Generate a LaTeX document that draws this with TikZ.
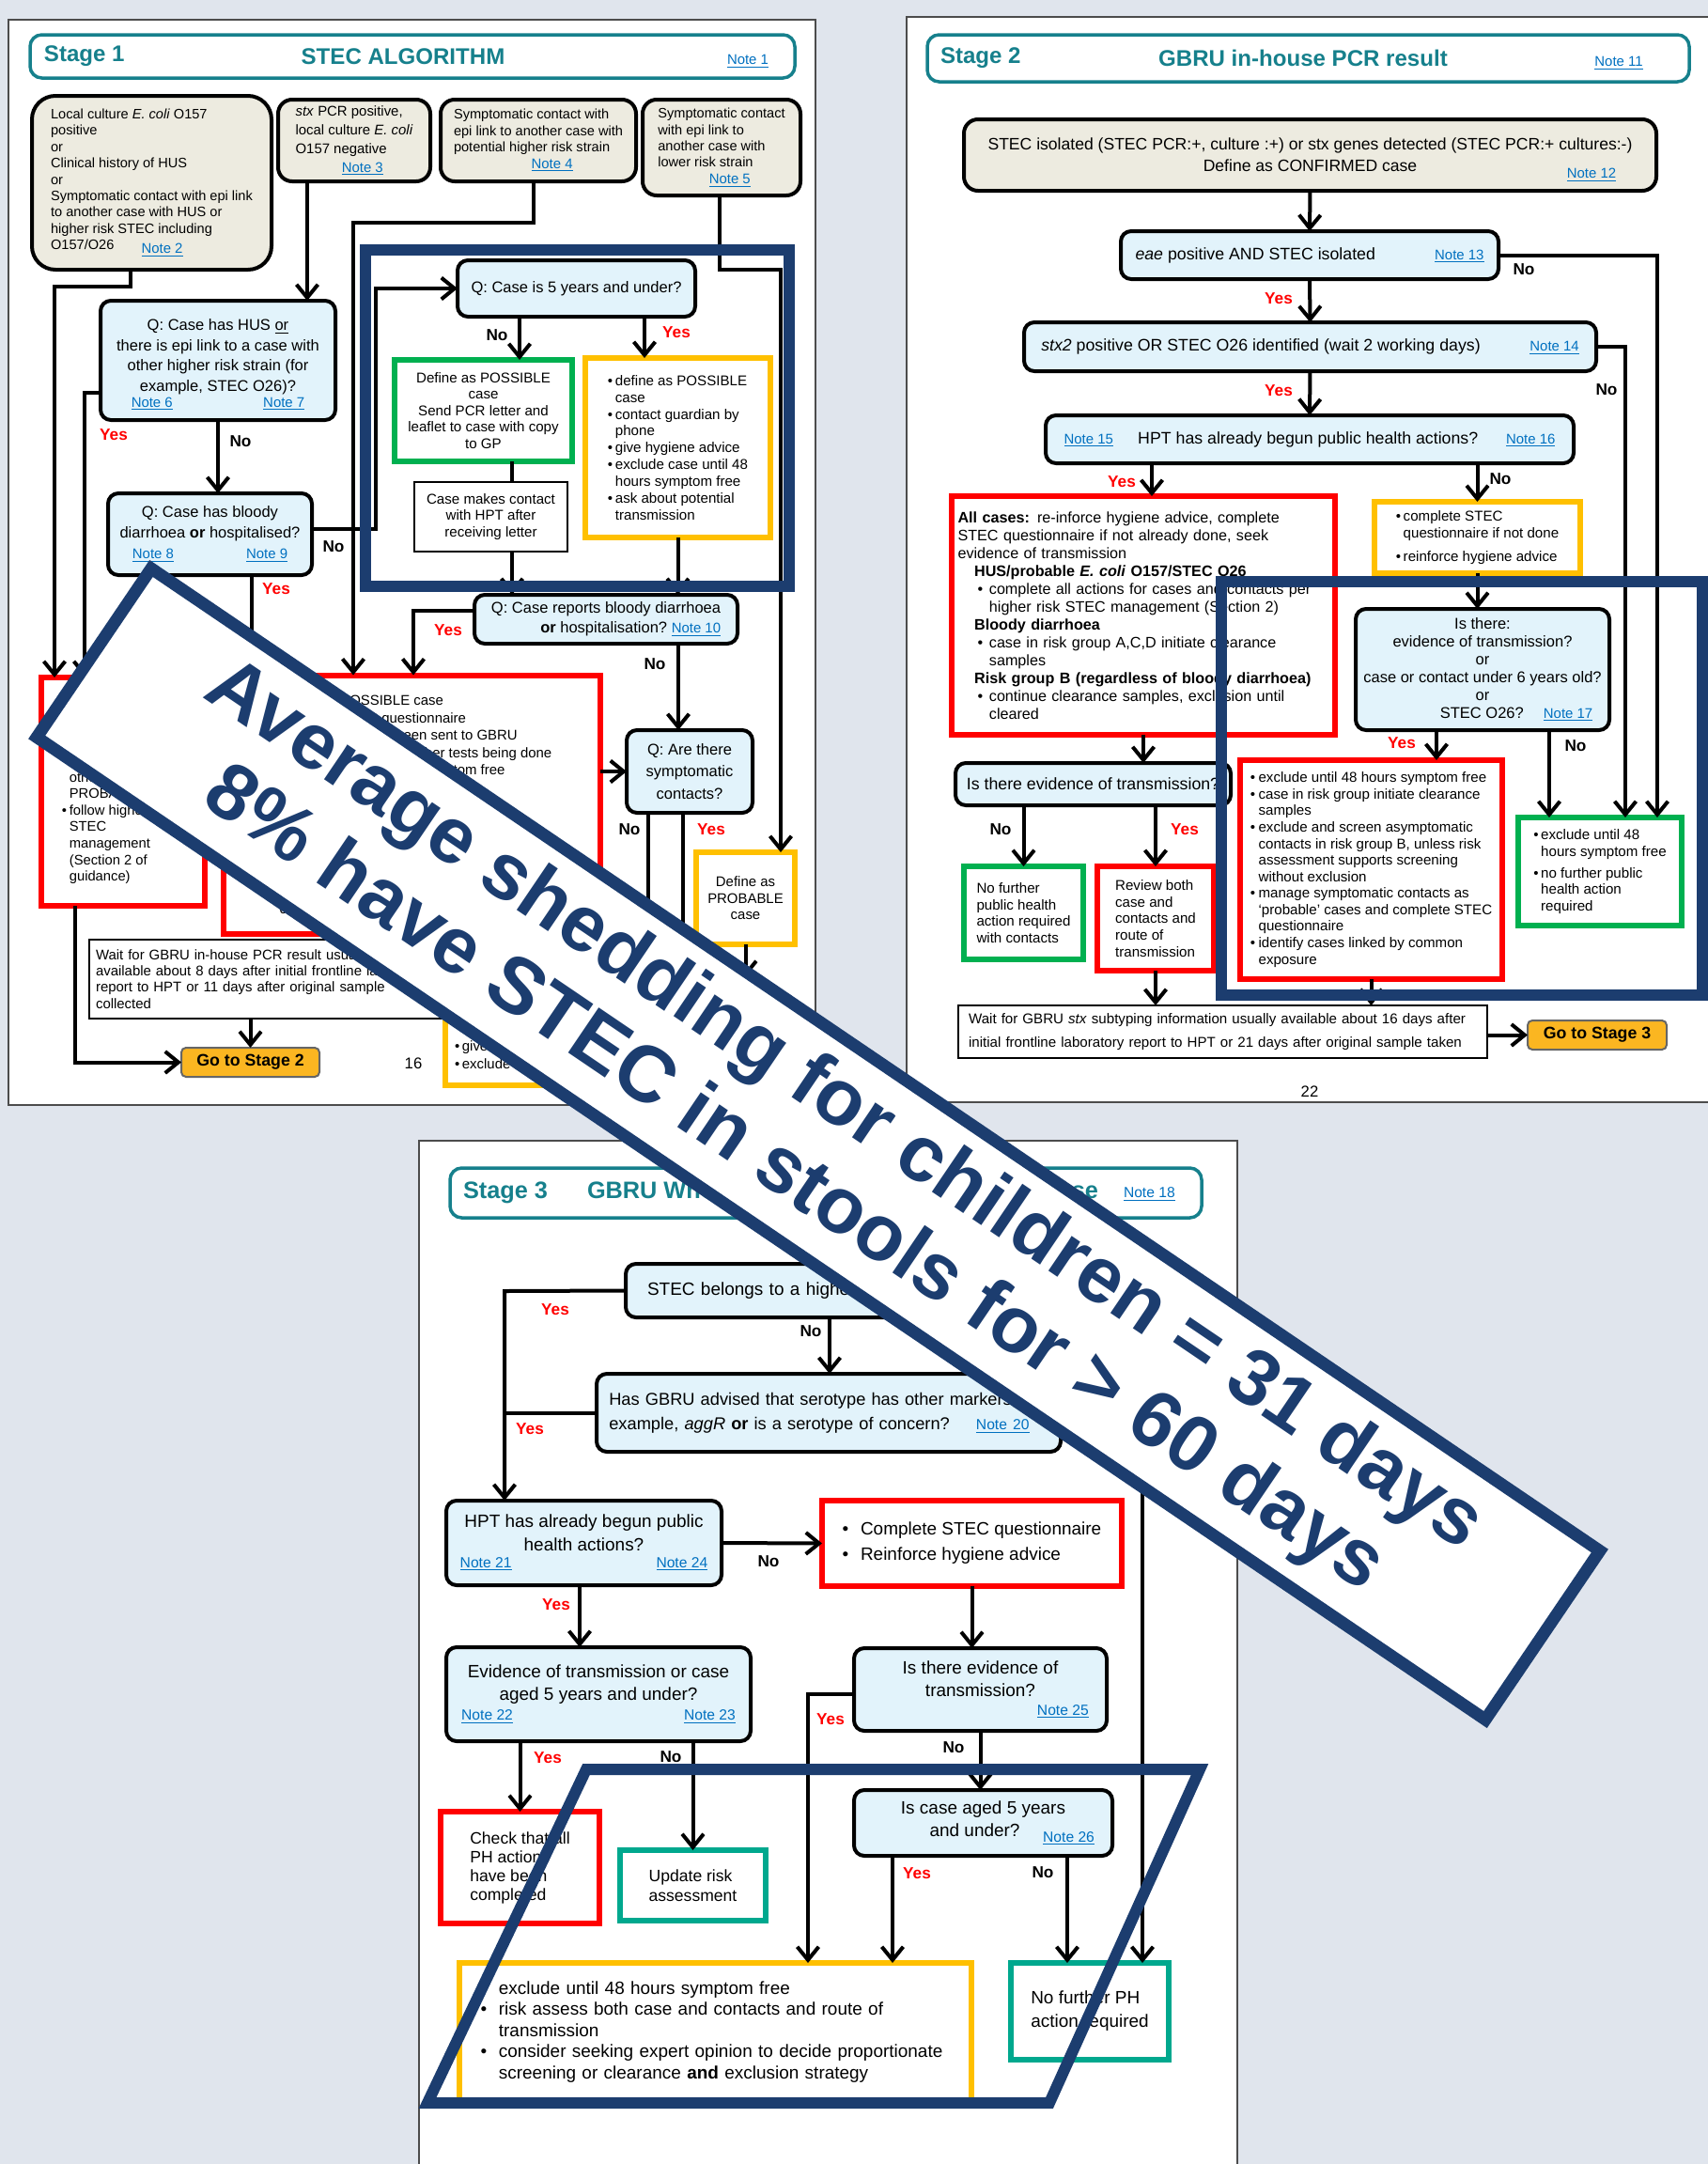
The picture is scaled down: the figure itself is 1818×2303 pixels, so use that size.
\documentclass[tikz,border=0pt]{standalone}
\usepackage{fontspec}
\setmainfont{Liberation Sans}
\usetikzlibrary{arrows.meta}
\definecolor{pagebg}{RGB}{224,229,237}
\definecolor{navy}{RGB}{28,61,111}
\definecolor{tealhd}{RGB}{22,128,140}
\definecolor{linkblue}{RGB}{0,112,192}
\definecolor{startfill}{RGB}{237,235,224}
\definecolor{qfill}{RGB}{226,243,251}
\definecolor{boxred}{RGB}{255,0,0}
\definecolor{boxgreen}{RGB}{0,176,80}
\definecolor{boxyellow}{RGB}{255,192,0}
\definecolor{boxteal}{RGB}{0,168,142}
\definecolor{gold}{RGB}{251,182,33}
\newcommand{\nt}[1]{{\fontsize{8.5}{10}\selectfont\textcolor{linkblue}{\underline{#1}}}}
\newcommand{\ntb}[1]{{\fontsize{8.9}{10}\selectfont\textcolor{linkblue}{\underline{#1}}}}
\newcommand{\bl}[1][4.5pt]{\makebox[#1][l]{\textbullet}}
\newcommand{\ind}[1][4.5pt]{\hspace*{#1}}
\newcommand{\notes}[3]{\makebox[#1]{#2\hfill#3}}
\begin{document}
\begin{tikzpicture}[x=0.02cm, y=-0.02cm,
  every node/.style={inner sep=0pt, outer sep=0pt},
  sz/.style 2 args={minimum width=#1*0.02cm, minimum height=#2*0.02cm},
  fnt/.style 2 args={font=\fontsize{#1}{#2}\selectfont},
  page/.style={fill=white, draw=black!70, line width=0.04cm},
  hdr/.style={draw=tealhd, line width=0.07cm, rounded corners=0.25cm, fill=white},
  ttl/.style={text=tealhd, font=\fontsize{13.7}{16}\selectfont\bfseries},
  sbox/.style={draw, line width=0.08cm, rounded corners=0.3cm, fill=startfill},
  qbox/.style={draw, line width=0.08cm, rounded corners=0.22cm, fill=qfill},
  wbox/.style={draw, line width=0.05cm, fill=white},
  rdbox/.style={draw=boxred, line width=0.12cm, fill=white},
  gnbox/.style={draw=boxgreen, line width=0.12cm, fill=white},
  ylbox/.style={draw=boxyellow, line width=0.12cm, fill=white},
  tlbox/.style={draw=boxteal, line width=0.12cm, fill=white},
  gobox/.style={draw=black!60, line width=0.04cm, rounded corners=0.1cm, fill=gold, font=\fontsize{10.1}{12}\selectfont\bfseries},
  conn/.style={line width=0.08cm},
  arr/.style={line width=0.08cm, -{Straight Barb[length=8pt,width=13pt]}},
  yes/.style={text=boxred, font=\fontsize{9.8}{11}\selectfont\bfseries},
  no/.style={font=\fontsize{9.8}{11}\selectfont\bfseries},
  bluefr/.style={draw=navy, line width=0.24cm},
  banner/.style={draw=navy, line width=0.26cm, fill=white, text=navy, align=center, font=\fontsize{48}{54}\selectfont\bfseries}]
\useasboundingbox (0,0) rectangle (1818,2303);
\fill[pagebg] (0,0) rectangle (1818,2303);
% stage 1
\draw[page] (9,21) rectangle (868,1176);
\node[hdr, sz={814}{46}] (hd1) at (439,60) {};
\node[ttl, anchor=west] (hd1a) at (47,60) {Stage 1};
\node[ttl] (hd1b) at (429,60) {STEC ALGORITHM};
\node (hd1c) at (796,65) {\nt{Note 1}};
\node[sbox, rounded corners=0.5cm, sz={255}{185}, fnt={8.3}{9.9}, align=left] (n2) at (161.5,194.5) {Local culture \textit{E. coli} O157\\positive\\or\\Clinical history of HUS\\or\\Symptomatic contact with epi link\\to another case with HUS or\\higher risk STEC including\\O157/O26\hspace{2em}\raisebox{-0.5ex}{\nt{Note 2}}};
\node[sbox, sz={162}{87}, fnt={8.5}{11.4}, align=left] (n3) at (377,149.5) {\textit{stx} PCR positive,\\local culture \textit{E. coli}\\O157 negative\\\hspace*{28pt}\nt{Note 3}};
\node[sbox, sz={208}{87}, fnt={8.3}{9.9}, align=left] (n4) at (573,149.5) {Symptomatic contact with\\epi link to another case with\\potential higher risk strain\\\hspace*{47pt}\nt{Note 4}};
\node[sbox, sz={168}{102}, fnt={8.3}{9.9}, align=left] (n5) at (768,157) {Symptomatic contact\\with epi link to\\another case with\\lower risk strain\\\hspace*{31pt}\nt{Note 5}};
\node[qbox, sz={250}{127}, fnt={9.4}{12.4}, align=center] (q1) at (232,383.5) {\rule{0pt}{12pt}Q: Case has HUS \underline{or}\\there is epi link to a case with\\other higher risk strain (for\\example, STEC O26)?\\[-3pt]\notes{105pt}{\nt{Note 6}}{\nt{Note 7}}};
\node[qbox, sz={217}{87}, fnt={9.4}{12.4}, align=center] (q2) at (223.5,568.5) {Q: Case has bloody\\diarrhoea \textbf{or} hospitalised?\\\notes{94pt}{\nt{Note 8}}{\nt{Note 9}}};
\node[qbox, sz={253}{60}, fnt={9.4}{12.4}] (q0) at (613.5,307) {Q: Case is 5 years and under?};
\node[gnbox, sz={189}{108}, fnt={8.6}{10}, align=center] (g1) at (514.5,437) {Define as POSSIBLE\\case\\Send PCR letter and\\leaflet to case with copy\\to GP};
\node[wbox, sz={163}{74}, fnt={8.6}{10}, align=center] (c1) at (522.5,550) {Case makes contact\\with HPT after\\receiving letter};
\node[ylbox, sz={197}{191}, fnt={8.6}{10.2}, align=left] (y1) at (721.5,476.5) {\bl define as POSSIBLE\\\ind case\\\bl contact guardian by\\\ind phone\\\bl give hygiene advice\\\bl exclude case until 48\\\ind hours symptom free\\\bl ask about potential\\\ind transmission};
\node[qbox, sz={280}{52}, fnt={9.4}{12}, align=right] (q3) at (645,659) {Q: Case reports bloody diarrhoea\\\textbf{or} hospitalisation?\ \nt{Note 10}};
\node[qbox, sz={134}{88}, fnt={9.4}{13.6}, align=center] (q4) at (734,821) {Q: Are there\\symptomatic\\contacts?};
\node[rdbox, sz={174}{243}, fnt={8.4}{10}, align=left] (r1) at (131,842.5) {\mbox{}\\\mbox{}\\\mbox{}\\\mbox{}\\\mbox{}\\\ind other\\\ind PROBABLE cases\\\bl follow higher risk\\\ind STEC\\\ind management\\\ind (Section 2 of\\\ind guidance)};
\node[rdbox, sz={401}{275}, fnt={8.5}{10.5}, align=left] (r2) at (438.5,856) {\bl define as POSSIBLE case\\\bl complete STEC questionnaire\\\bl check sample has been sent to GBRU\\\bl if GBRU confirm no further tests being done\\\ind exclude until 48 hours symptom free\\\bl if in a risk group, exclude until\\\ind clearance or 48 hours, whichever is\\\mbox{}\\\mbox{}\\\mbox{}\\\mbox{}\\\bl identify symptomatic\\\ind contacts};
\node[ylbox, sz={105}{98}, fnt={8.5}{10}, align=center] (pr1) at (793.5,956) {Define as\\PROBABLE\\case};
\node[ylbox, sz={326}{115}] (y2) at (637,1097.5) {};
\node[fnt={8.5}{10.8}, align=left, anchor=north west] (y2t) at (484,1108) {\bl give hygiene advice\\\bl exclude until 48 hours symptom free};
\node[wbox, sz={425}{84}, fnt={8.5}{9.8}, text width=8.22cm, align=left] (w1) at (307.5,1042) {Wait for GBRU in-house PCR result usually\\available about 8 days after initial frontline laboratory\\report to HPT or 11 days after original sample\\collected};
\node[gobox, sz={147}{31}] (g2) at (266.5,1130.5) {Go to Stage 2};
\node[fnt={9.5}{11}] (pg16) at (440,1132) {16};
\coordinate (j1) at (139,305);
\coordinate (j2) at (58,305);
\coordinate (j3) at (327,250);
\coordinate (j4) at (568,237);
\coordinate (j5) at (376,237);
\coordinate (j6) at (766,287);
\coordinate (j7) at (831,287);
\coordinate (j8) at (90,418);
\coordinate (j9) at (400,563);
\coordinate (j11) at (268,650);
\coordinate (j12) at (553,360);
\coordinate (j13) at (686,360);
\coordinate (j14) at (545,500);
\coordinate (j15) at (440,650);
\coordinate (j16) at (722,720);
\coordinate (j17) at (690,900);
\coordinate (j18) at (727,900);
\coordinate (j19) at (80,1131);
\draw[arr] (n2.south -| j1) -- (j1) -- (j2) -- (r1.north -| j2);
\draw[arr] (n3.south -| j3) -- (q1.north -| j3);
\draw[arr] (n4.south -| j4) -- (j4) -- (j5) -- (r2.north -| j5);
\draw[arr] (n5.south -| j6) -- (j6) -- (j7) -- (pr1.north -| j7);
\draw[arr] (q1.south) -- (q2.north -| q1.south);
\draw[arr] (q1.west |- j8) -- (j8) -- (r1.north -| j8);
\draw[arr] (q2.east |- j9) -- (j9) |- (q0.west);
\draw[arr] (q2.south -| j11) -- (r2.north -| j11);
\draw[arr] (q0.south -| j12) -- (g1.north -| j12);
\draw[arr] (q0.south -| j13) -- (y1.north -| j13);
\draw[conn] (g1.south -| j14) -- (c1.north -| j14);
\draw[arr] (c1.south -| j14) -- (q3.north -| j14);
\draw[arr] (y1.south) -- (q3.north -| y1.south);
\draw[arr] (q3.west |- j15) -- (j15) -- (r2.north -| j15);
\draw[arr] (q3.south -| j16) -- (q4.north -| j16);
\draw[arr] (r2.east |- q4.west) -- (q4.west);
\draw[arr] (q4.south -| j17) -- (y2.north -| j17);
\draw[arr] (q4.south -| j18) -- (y2.north -| j18);
\draw[arr] (pr1.south) -- (y2.north -| pr1.south);
\draw[arr] (r1.south -| j19) |- (g2.west);
\draw[arr] (w1.south -| g2.north) -- (g2.north);
\draw[bluefr] (389,266) rectangle (840,624);
% stage 2
\draw[page] (965,18) rectangle (1840,1173);
\node[hdr, sz={811}{50}] (hd2) at (1392.5,62) {};
\node[ttl, anchor=west] (hd2a) at (1001,62) {Stage 2};
\node[ttl] (hd2b) at (1387,62) {GBRU in-house PCR result};
\node (hd2c) at (1723,67) {\nt{Note 11}};
\node[sbox, sz={737}{76}, fnt={10}{13.2}, align=center] (b1) at (1394.5,165) {STEC isolated (STEC PCR:+, culture :+) or stx genes detected (STEC PCR:+ cultures:-)\\Define as CONFIRMED case};
\node (b1n) at (1694,186) {\nt{Note 12}};
\node[qbox, sz={402}{51}, fnt={10.1}{12}] (b2) at (1394,271.5) {\textit{eae} positive AND STEC isolated\hspace{36pt}\nt{Note 13}};
\node[qbox, sz={609}{52}, fnt={10.1}{12}] (b3) at (1394.5,369) {\textit{stx2} positive OR STEC O26 identified (wait 2 working days)\hspace{30pt}\nt{Note 14}};
\node[qbox, sz={562}{51}, fnt={10.1}{12}] (b4) at (1394,467.5) {\nt{Note 15}\hspace{15pt}HPT has already begun public health actions?\hspace{17pt}\nt{Note 16}};
\node[rdbox, sz={408}{254}, fnt={9.2}{10.8}, text width=7.9cm, align=left] (s2r1) at (1217,655) {\textbf{All cases:} re-inforce hygiene advice, complete\\STEC questionnaire if not already done, seek\\evidence of transmission\\\ind[10pt]\textbf{HUS/probable \textit{E. coli} O157/STEC O26}\\\ind[12pt]\bl[7pt]complete all actions for cases and contacts per\\\ind[19pt]higher risk STEC management (Section 2)\\\ind[10pt]\textbf{Bloody diarrhoea}\\\ind[12pt]\bl[7pt]case in risk group A,C,D initiate clearance\\\ind[19pt]samples\\\ind[10pt]\textbf{Risk group B (regardless of bloody diarrhoea)}\\\ind[12pt]\bl[7pt]continue clearance samples, exclusion until\\\ind[19pt]cleared};
\node[ylbox, sz={219}{76}, fnt={8.6}{10}, align=left] (s2y) at (1572.5,572) {\bl complete STEC\\\ind questionnaire if not done\\[4pt]\bl reinforce hygiene advice};
\node[qbox, sz={270}{129}, fnt={9.4}{10.8}, align=center] (q5) at (1578,712.5) {Is there:\\evidence of transmission?\\or\\case or contact under 6 years old?\\or\\\hspace*{41pt}STEC O26?\hspace{12pt}\nt{Note 17}};
\node[qbox, sz={293}{45}, fnt={10.1}{12}] (b5) at (1163.5,834.5) {Is there evidence of transmission?};
\node[gnbox, sz={127}{99}, fnt={8.6}{10}, align=left] (s2g1) at (1089.5,971.5) {No further\\public health\\action required\\with contacts};
\node[rdbox, sz={124}{111}, fnt={8.6}{10}, align=left] (s2r3) at (1230,977.5) {Review both\\case and\\contacts and\\route of\\transmission};
\node[rdbox, sz={279}{233}, fnt={8.6}{10}, align=left] (s2r2) at (1459.5,925.5) {\bl[5pt]exclude until 48 hours symptom free\\\bl[5pt]case in risk group initiate clearance\\\ind[5pt]samples\\\bl[5pt]exclude and screen asymptomatic\\\ind[5pt]contacts in risk group B, unless risk\\\ind[5pt]assessment supports screening\\\ind[5pt]without exclusion\\\bl[5pt]manage symptomatic contacts as\\\ind[5pt]‘probable’ cases and complete STEC\\\ind[5pt]questionnaire\\\bl[5pt]identify cases linked by common\\\ind[5pt]exposure};
\node[gnbox, sz={174}{115}, fnt={8.6}{10}, align=left] (s2g2) at (1703,927.5) {\bl exclude until 48\\\ind hours symptom free\\[3pt]\bl no further public\\\ind health action\\\ind required};
\node[wbox, sz={563}{56}, fnt={8.6}{14.2}, text width=10.82cm, align=left] (w2) at (1301.5,1098) {Wait for GBRU \textit{stx} subtyping information usually available about 16 days after\\initial frontline laboratory report to HPT or 21 days after original sample taken};
\node[gobox, sz={148}{31}] (g3) at (1700,1101.5) {Go to Stage 3};
\node[fnt={9.5}{11}] (pg22) at (1394,1162) {22};
\coordinate (m1) at (1764,270);
\coordinate (m2) at (1730,370);
\coordinate (m3) at (1226,510);
\coordinate (m4) at (1529,790);
\coordinate (m5) at (1649,790);
\draw[arr] (b1.south) -- (b2.north);
\draw[arr] (b2.east) -| (s2g2.north -| m1);
\draw[arr] (b2.south) -- (b3.north);
\draw[arr] (b3.east) -| (s2g2.north -| m2);
\draw[arr] (b3.south) -- (b4.north);
\draw[arr] (b4.south -| m3) -- (s2r1.north -| m3);
\draw[arr] (b4.south -| s2y.north) -- (s2y.north);
\draw[arr] (s2y.south) -- (q5.north -| s2y.south);
\draw[arr] (q5.south -| m4) -- (s2r2.north -| m4);
\draw[arr] (q5.south -| m5) -- (s2g2.north -| m5);
\draw[arr] (s2r1.south) -- (b5.north -| s2r1.south);
\draw[arr] (b5.south -| s2g1.north) -- (s2g1.north);
\draw[arr] (b5.south -| s2r3.north) -- (s2r3.north);
\draw[arr] (s2r3.south) -- (w2.north -| s2r3.south);
\draw[arr] (s2r2.south) -- (w2.north -| s2r2.south);
\draw[arr] (w2.east |- g3.west) -- (g3.west);
\draw[bluefr] (1300,619) rectangle (1812,1059);
% stage 3
\draw[page] (446,1214) rectangle (1317,2320);
\node[hdr, sz={800}{53}] (hd3) at (879,1269.5) {};
\node[ttl, font=\fontsize{14.4}{16}\selectfont\bfseries, anchor=west] (hd3a) at (493,1269) {Stage 3};
\node[ttl, font=\fontsize{14.4}{16}\selectfont\bfseries, anchor=west] (hd3b) at (625,1269) {GBRU Whole Genome Sequencing Response};
\node[anchor=west] (hd3c) at (1196,1271) {\ntb{Note 18}};
\node[qbox, sz={434}{57}, fnt={10.8}{14}, text width=7.76cm, align=left] (s3b1) at (883,1373.5) {STEC belongs to a higher risk group?};
\node[qbox, sz={494}{83}, fnt={10.4}{14.8}, text width=9.35cm, align=left] (s3b2) at (882,1503.5) {Has GBRU advised that serotype has other markers, for\\example, \textit{aggR} \textbf{or} is a serotype of concern?\hspace{16pt}\ntb{Note 20}};
\node[qbox, sz={293}{90}, fnt={10.8}{14}, align=center] (s3q1) at (621.5,1642) {HPT has already begun public\\health actions?\\[-4pt]\notes{150pt}{\ntb{Note 21}}{\ntb{Note 24}}};
\node[rdbox, sz={319}{91}, fnt={10.8}{15.4}, align=left] (s3r1) at (1034.5,1642.5) {\bl[11pt]Complete STEC questionnaire\\\bl[11pt]Reinforce hygiene advice};
\node[qbox, sz={324}{100}, fnt={10.8}{14}, align=center] (s3q2) at (637,1803) {Evidence of transmission or case\\aged 5 years and under?\\[-2pt]\notes{166pt}{\ntb{Note 22}}{\ntb{Note 23}}};
\node[qbox, sz={269}{88}, fnt={10.8}{14}, align=center] (s3q3) at (1043.5,1798) {Is there evidence of\\transmission?\\[-3pt]\hspace*{100pt}\ntb{Note 25}};
\node[qbox, sz={275}{70}, fnt={10.8}{14}, align=center] (s3q4) at (1046.5,1940) {Is case aged 5 years\\\hspace*{35pt}and under?\hspace{14pt}\raisebox{-3pt}{\ntb{Note 26}}};
\node[rdbox, sz={169}{119}, fnt={10}{11.4}, align=left] (s3r2) at (553.5,1987.5) {Check that all\\PH actions\\have been\\completed};
\node[tlbox, sz={155}{75}, fnt={10}{12}, align=left] (s3g1) at (737.5,2006.5) {Update risk\\assessment};
\node[ylbox, sz={545}{147}, fnt={10.8}{12.8}, text width=10cm, align=left] (s3y) at (761.5,2162.5) {\bl[11pt]exclude until 48 hours symptom free\\\bl[11pt]risk assess both case and contacts and route of\\\ind[11pt]transmission\\\bl[11pt]consider seeking expert opinion to decide proportionate\\\ind[11pt]screening or clearance \textbf{and} exclusion strategy};
\node[tlbox, sz={168}{103}, fnt={10.8}{14.2}, align=left] (s3g2) at (1160,2140.5) {No further PH\\action required};
\coordinate (s1) at (537,1374);
\coordinate (s2) at (1216,1504);
\coordinate (s3) at (617,1700);
\coordinate (s4) at (860,1803);
\coordinate (s5) at (950,2000);
\coordinate (s6) at (1136,2000);
\draw[arr] (s3b1.west) -- (s1) -- (s3q1.north -| s1);
\draw[conn] (s3b2.west) -- (s3b2.west -| s1);
\draw[arr] (s3b1.south) -- (s3b2.north -| s3b1.south);
\draw[arr] (s3b2.east) -| (s3g2.north -| s2);
\draw[arr] (s3q1.east) -- (s3r1.west);
\draw[arr] (s3q1.south -| s3) -- (s3q2.north -| s3);
\draw[arr] (s3r1.south) -- (s3q3.north -| s3r1.south);
\draw[arr] (s3q2.south -| s3r2.north) -- (s3r2.north);
\draw[arr] (s3q2.south -| s3g1.north) -- (s3g1.north);
\draw[arr] (s3q3.west |- s4) -- (s4) -- (s3y.north -| s4);
\draw[arr] (s3q3.south) -- (s3q4.north -| s3q3.south);
\draw[arr] (s3q4.south -| s5) -- (s3y.north -| s5);
\draw[arr] (s3q4.south -| s6) -- (s3g2.north -| s6);
\draw[bluefr] (624,1883) -- (1277,1883) -- (1117,2238) -- (455,2238) -- cycle;
% branch labels
\foreach \x/\y/\n in {720/354/ys1, 121/463/ys2, 294/627/ys3, 477/671/ys4, 757/883/ys5,
  1361/318/ys6, 1361/416/ys7, 1194/513/ys8, 1492/791/ys9, 1261/883/ys10,
  591/1394/ys11, 564/1521/ys12, 592/1708/ys13, 884/1830/ys14, 583/1871/ys15, 976/1994/ys16}
  \node[yes] (\n) at (\x,\y) {Yes};
\foreach \x/\y/\n in {529/357/no1, 256/470/no2, 355/582/no3, 697/707/no4, 670/883/no5,
  1622/287/no6, 1710/415/no7, 1597/510/no8, 1677/794/no9, 1065/883/no10,
  863/1417/no11, 818/1662/no12, 1015/1860/no13, 714/1870/no14, 1110/1993/no15}
  \node[no] (\n) at (\x,\y) {No};
% banner
\node[banner, sz={1863}{217}, rotate=-34.14] (bnr) at (871,1217.5) {Average shedding for children = 31 days\\8\% have STEC in stools for > 60 days};
\end{tikzpicture}
\end{document}
